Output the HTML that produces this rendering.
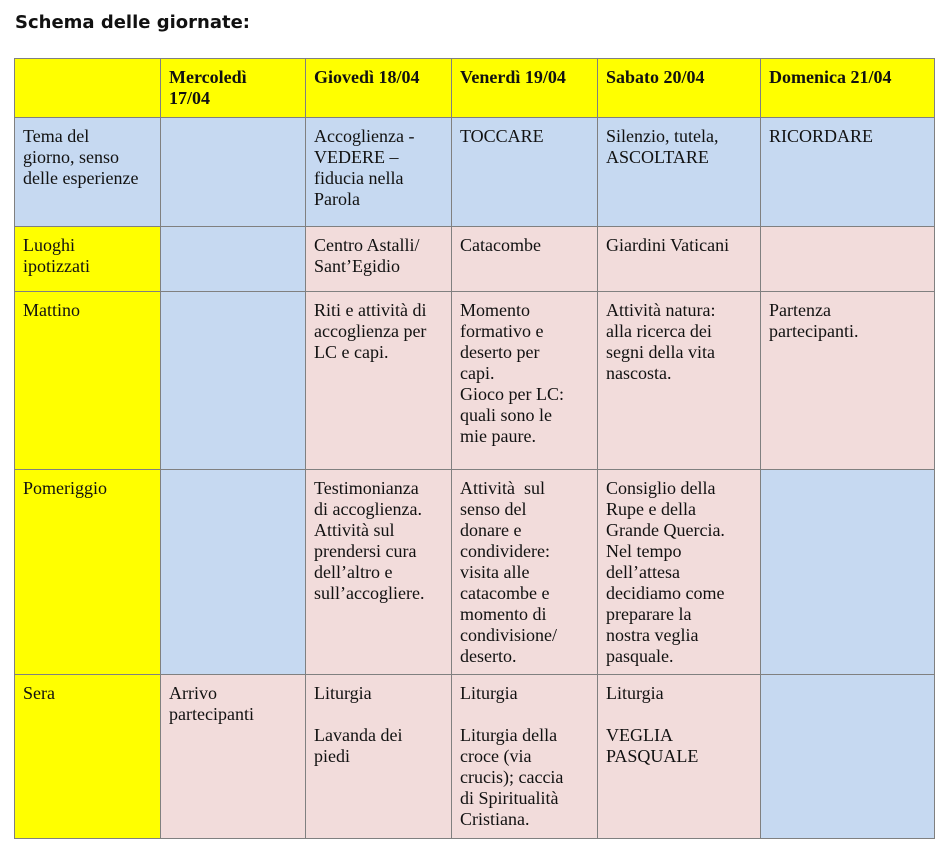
<!DOCTYPE html>
<html><head><meta charset="utf-8"><style>
body{margin:0;background:#fff;width:944px;height:851px;position:relative;overflow:hidden}
.t{position:absolute;left:15px;top:12px;font:bold 18px "DejaVu Sans","Liberation Sans",sans-serif;color:#111}
.c{position:absolute;box-sizing:border-box;border:1px solid #808080;margin:0;padding:8px 0 0 8px;font:18px/21px "Liberation Serif",serif;color:#111}
.y{background:#ffff00}.b{background:#c6d9f1}.p{background:#f2dcdb}
.h{font-weight:bold}
</style></head><body>
<div class="t">Schema delle giornate:</div>
<div id="g"></div>
<script>
var X=[14,160,305,451,597,760,934],Y=[58,117,226,291,469,674,838];
var C=[
["y","y","y","y","y","y"],
["b","b","b","b","b","b"],
["y","b","p","p","p","p"],
["y","b","p","p","p","p"],
["y","b","p","p","p","b"],
["y","p","p","p","p","b"]];
var T=[
["","Mercoledì<br>17/04","Giovedì 18/04","Venerdì 19/04","Sabato 20/04","Domenica 21/04"],
["Tema del<br>giorno, senso<br>delle esperienze","","Accoglienza -<br>VEDERE –<br>fiducia nella<br>Parola","TOCCARE","Silenzio, tutela,<br>ASCOLTARE","RICORDARE"],
["Luoghi<br>ipotizzati","","Centro Astalli/<br>Sant’Egidio","Catacombe","Giardini Vaticani",""],
["Mattino","","Riti e attività di<br>accoglienza per<br>LC e capi.","Momento<br>formativo e<br>deserto per<br>capi.<br>Gioco per LC:<br>quali sono le<br>mie paure.","Attività natura:<br>alla ricerca dei<br>segni della vita<br>nascosta.","Partenza<br>partecipanti."],
["Pomeriggio","","Testimonianza<br>di accoglienza.<br>Attività sul<br>prendersi cura<br>dell’altro e<br>sull’accogliere.","Attività&nbsp; sul<br>senso del<br>donare e<br>condividere:<br>visita alle<br>catacombe e<br>momento di<br>condivisione/<br>deserto.","Consiglio della<br>Rupe e della<br>Grande Quercia.<br>Nel tempo<br>dell’attesa<br>decidiamo come<br>preparare la<br>nostra veglia<br>pasquale.",""],
["Sera","Arrivo<br>partecipanti","Liturgia<br><br>Lavanda dei<br>piedi","Liturgia<br><br>Liturgia della<br>croce (via<br>crucis); caccia<br>di Spiritualità<br>Cristiana.","Liturgia<br><br>VEGLIA<br>PASQUALE",""]];
var h="";
for(var r=0;r<6;r++)for(var c=0;c<6;c++){
h+='<div class="c '+C[r][c]+(r==0?' h':'')+'" style="left:'+X[c]+'px;top:'+Y[r]+'px;width:'+(X[c+1]-X[c]+1)+'px;height:'+(Y[r+1]-Y[r]+1)+'px">'+T[r][c]+'</div>';}
document.getElementById("g").innerHTML=h;
</script>
</body></html>
